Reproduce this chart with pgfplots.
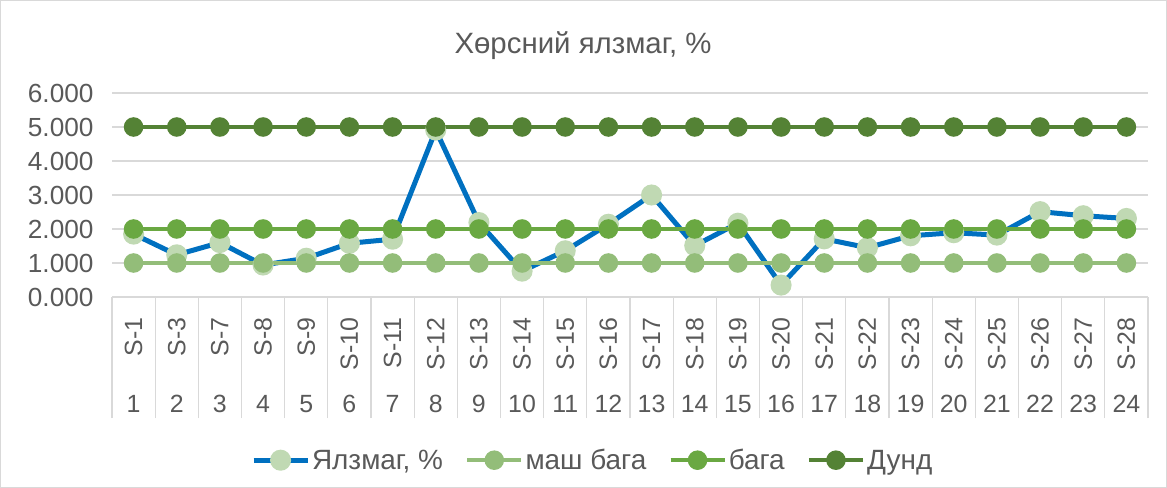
\documentclass[border=0pt]{standalone}
\usepackage{fontspec}
\setmainfont{Liberation Sans}
\usepackage{pgfplots}
\pgfplotsset{compat=1.18}
\definecolor{txt}{HTML}{595959}
\definecolor{gridc}{HTML}{D9D9D9}
\definecolor{cBlue}{HTML}{0070C0}
\definecolor{cMarkBlue}{HTML}{C0D9B3}
\definecolor{cVLow}{HTML}{93BD79}
\definecolor{cLow}{HTML}{6AA842}
\definecolor{cMid}{HTML}{548235}

\pgfplotstableread{
x val
1 1.85
2 1.24
3 1.60
4 0.94
5 1.14
6 1.58
7 1.70
8 4.91
9 2.19
10 0.76
11 1.36
12 2.14
13 3.00
14 1.51
15 2.17
16 0.35
17 1.71
18 1.45
19 1.80
20 1.89
21 1.82
22 2.51
23 2.39
24 2.31
}\humus

\pgfplotstableread{
x vlow low mid
1 1 2 5
2 1 2 5
3 1 2 5
4 1 2 5
5 1 2 5
6 1 2 5
7 1 2 5
8 1 2 5
9 1 2 5
10 1 2 5
11 1 2 5
12 1 2 5
13 1 2 5
14 1 2 5
15 1 2 5
16 1 2 5
17 1 2 5
18 1 2 5
19 1 2 5
20 1 2 5
21 1 2 5
22 1 2 5
23 1 2 5
24 1 2 5
}\levels

\begin{document}
\begin{tikzpicture}[x=1bp,y=1bp]
\useasboundingbox (0,0) rectangle (1167,488);
\draw[gridc, line width=1bp] (0.5,0.5) rectangle (1166.5,487.5);
\node[txt, font=\fontsize{29.5}{32}\selectfont] at (583,442) {Хөрсний ялзмаг, \%};

\begin{axis}[
    at={(112bp,191bp)}, anchor=south west,
    scale only axis,
    width=1036bp, height=204bp,
    xmin=0.5, xmax=24.5,
    ymin=0, ymax=6,
    ytick={0,1,...,6},
    yticklabel style={txt, font=\fontsize{26.3}{29}\selectfont, xshift=-15bp,
        /pgf/number format/fixed, /pgf/number format/fixed zerofill,
        /pgf/number format/precision=3, /pgf/number format/assume math mode=true},
    ymajorgrids,
    grid style={gridc, line width=1.3bp},
    axis x line*=bottom,
    axis y line*=left,
    y axis line style={draw=none},
    x axis line style={gridc, line width=1.3bp, -},
    xtick={1,...,24},
    xticklabels={S-1,S-3,S-7,S-8,S-9,S-10,S-11,S-12,S-13,S-14,S-15,S-16,S-17,S-18,S-19,S-20,S-21,S-22,S-23,S-24,S-25,S-26,S-27,S-28},
    xticklabel style={txt, font=\fontsize{25}{28}\selectfont, yshift=-17bp, rotate=90, anchor=east},
    major tick length=0pt,
    extra x ticks={0.5,1.5,...,24.5},
    extra x tick labels={},
    extra x tick style={major tick length=121bp, tick align=outside, tick style={gridc, line width=1.3bp}, grid=none},
    clip=false,
    legend columns=4,
    legend style={at={(0.464,-0.80)}, anchor=center, draw=none, fill=none,
        font=\fontsize{28}{30}\selectfont, text=txt,
        /tikz/every even column/.append style={column sep=20bp}},
    legend image code/.code={\draw[mark repeat=2,mark phase=2,#1] plot coordinates {(0bp,0bp) (27bp,0bp) (54bp,0bp)};},
]
\addplot[cBlue, line width=5bp, mark=*, mark size=8bp, mark options={cMarkBlue}] table[x=x,y=val]{\humus};
\addlegendentry{Ялзмаг, \%}
\addplot[cVLow, line width=4.5bp, mark=*, mark size=7.5bp, mark options={cVLow}] table[x=x,y=vlow]{\levels};
\addlegendentry{маш бага}
\addplot[cLow, line width=4.5bp, mark=*, mark size=7.5bp, mark options={cLow}] table[x=x,y=low]{\levels};
\addlegendentry{бага}
\addplot[cMid, line width=4.5bp, mark=*, mark size=7.5bp, mark options={cMid}] table[x=x,y=mid]{\levels};
\addlegendentry{Дунд}
\end{axis}

\begin{axis}[
    at={(112bp,191bp)}, anchor=south west,
    scale only axis,
    width=1036bp, height=204bp,
    xmin=0.5, xmax=24.5,
    ymin=0, ymax=6,
    hide y axis,
    axis x line*=bottom,
    x axis line style={draw=none},
    xtick={1,...,24},
    major tick length=0pt,
    xticklabel style={txt, font=\fontsize{25}{28}\selectfont, anchor=base, yshift=-116bp},
    xticklabel={\pgfmathprintnumber[assume math mode=true]{\tick}},
]
\addplot[draw=none] coordinates {(1,0)};
\end{axis}
\end{tikzpicture}
\end{document}
